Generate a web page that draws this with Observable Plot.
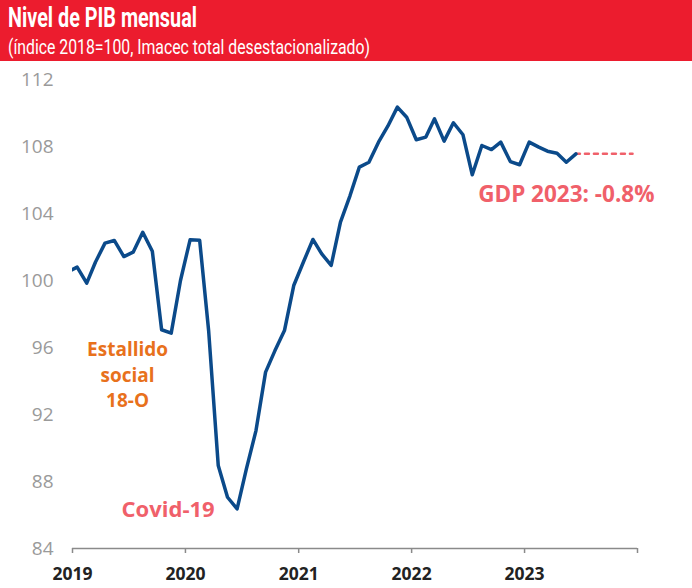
<!DOCTYPE html>
<html><head><meta charset="utf-8">
<script src="https://cdn.jsdelivr.net/npm/d3@7"></script>
<script src="https://cdn.jsdelivr.net/npm/@observablehq/plot@0.6"></script>
<style>
body{margin:0;background:#fff;}
svg{display:block;}
</style></head><body>
<div id="root"></div>
<script>
const titleText = "Nivel de PIB mensual";
const subtitleText = "(índice 2018=100, Imacec total desestacionalizado)";

// Monthly series, Dec 2018 .. Jun 2023 (index 2018=100)
const startMonth = "2018-12";
const imacec = [
  100.50,
  100.80, 99.84, 101.09, 102.23, 102.39, 101.43, 101.69, 102.88, 101.75, 97.06, 96.86, 100.00,
  102.43, 102.40, 97.00, 88.96, 87.06, 86.37, 88.75, 91.04, 94.53, 95.80, 97.01, 99.70,
  101.09, 102.45, 101.60, 100.90, 103.48, 105.07, 106.77, 107.06, 108.26, 109.21, 110.35, 109.75,
  108.40, 108.56, 109.65, 108.32, 109.42, 108.70, 106.31, 108.06, 107.82, 108.26, 107.10, 106.91,
  108.26, 107.96, 107.72, 107.60, 107.06, 107.56
];
const projMonths = ["2023-06", "2023-12"];
const projValues = [107.56, 107.56];

const yTicks = [84, 88, 92, 96, 100, 104, 108, 112];
const yearTicks = ["2019", "2020", "2021", "2022", "2023", "2024"];
const yearLabels = ["2019", "2020", "2021", "2022", "2023", ""];

const noteTexts = ["Estallido\nsocial\n18-O", "Covid-19", "GDP 2023: -0.8%"];
const noteDates = ["2019-06-28", "2019-11-06", "2023-05-16"];
const noteValues = [94.45, 86.45, 105.27];
const noteColors = ["#e8711c", "#f0606a", "#f0606a"];
const noteSizes = [19, 22, 22.5];

const midMonth = s => { const [y, m] = s.split("-").map(Number); return new Date(Date.UTC(y, m - 1, 16)); };
const [sy, sm] = startMonth.split("-").map(Number);
const series = imacec.map((v, i) => ({date: new Date(Date.UTC(sy, sm - 1 + i, 16)), value: v}));
const proj = projMonths.map((m, i) => ({date: midMonth(m), value: projValues[i]}));
const notes = noteTexts.map((t, i) => ({text: t, date: new Date(noteDates[i]), value: noteValues[i], color: noteColors[i]}));
const yearDates = yearTicks.map(y => new Date(Date.UTC(+y, 0, 1)));

// Header
const hdr = d3.create("svg").attr("width", 692).attr("height", 61);
hdr.append("rect").attr("width", 692).attr("height", 61).attr("fill", "#ec1c2e");
hdr.append("text").attr("x", 8).attr("y", 27).attr("fill", "#fff")
  .attr("font-family", "Roboto, sans-serif").attr("font-weight", 700).attr("font-size", 27)
  .attr("textLength", 189).attr("lengthAdjust", "spacingAndGlyphs").text(titleText);
hdr.append("text").attr("x", 8).attr("y", 54).attr("fill", "#fff")
  .attr("font-family", "Roboto, sans-serif").attr("font-weight", 400).attr("font-size", 20.5)
  .attr("textLength", 362).attr("lengthAdjust", "spacingAndGlyphs").text(subtitleText);
document.getElementById("root").appendChild(hdr.node());

const chart = Plot.plot({
  width: 692, height: 527,
  marginTop: 18, marginBottom: 40, marginLeft: 72, marginRight: 55,
  style: {fontFamily: "'Open Sans', sans-serif", background: "#fff", overflow: "visible"},
  x: {type: "utc", label: null, domain: [yearDates[0], yearDates[yearDates.length - 1]]},
  y: {label: null, domain: [yTicks[0], yTicks[yTicks.length - 1]]},
  marks: [
    Plot.axisY(yTicks, {tickSize: 0, tickPadding: 19, fill: "#9a9a9a", fontSize: 19, label: null,
      fontFamily: "'Liberation Sans Narrow', 'Open Sans', sans-serif"}),
    Plot.axisX(yearDates, {tickSize: 5, tickPadding: 14, stroke: "#8a8a8a", strokeWidth: 1.5, label: null,
      fill: "#222", fontWeight: 700, fontSize: 17.5,
      tickFormat: d => yearLabels[yearDates.findIndex(t => +t === +d)]}),
    Plot.ruleY([yTicks[0]], {stroke: "#8a8a8a", strokeWidth: 1.5}),
    Plot.line(proj, {x: "date", y: "value", stroke: "#f0606a", strokeWidth: 2.5, strokeDasharray: "4,5"}),
    Plot.line(series, {x: "date", y: "value", stroke: "#0b4a8a", strokeWidth: 3.5, clip: true, strokeLinejoin: "round"}),
    Plot.text(notes, {x: "date", y: "value", text: "text", fill: "color", fontWeight: 700,
      fontSize: (d, i) => noteSizes[i], lineHeight: 1.35, textAnchor: "middle"})
  ]
});
document.getElementById("root").appendChild(chart);
</script>
</body></html>
